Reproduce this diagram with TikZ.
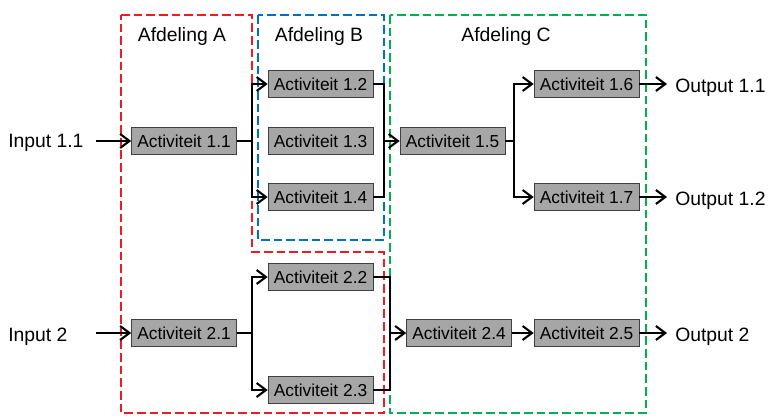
\documentclass[tikz,border=0pt]{standalone}
\usepackage{fontspec}
\setmainfont{Liberation Sans}
\usetikzlibrary{arrows.meta}
\definecolor{boxgray}{RGB}{166,166,166}
\definecolor{afdA}{RGB}{237,28,36}
\definecolor{afdB}{RGB}{0,112,192}
\definecolor{afdC}{RGB}{0,176,80}

\begin{document}
\begin{tikzpicture}[x=0.75pt,y=-0.75pt,
  act/.style={draw=black!75, fill=boxgray, minimum width=78.75pt, minimum height=20.25pt, inner sep=0pt, font=\fontsize{13}{15}\selectfont},
  flow/.style={line width=1.6pt, -{Straight Barb[length=7pt,width=10.5pt]}},
  joint/.style={line width=1.6pt},
  afdeling/.style={dash pattern=on 6.5pt off 3pt, line width=1.1pt},
  lbl/.style={font=\fontsize{14.5}{17}\selectfont, inner sep=0pt}]

\useasboundingbox (0,0) rectangle (773,420);

% afdelingen
\draw[afdeling, draw=afdA] (121,15) -- (252,15) -- (252,252) -- (384,252) -- (384,413) -- (121,413) -- cycle;
\draw[afdeling, draw=afdB] (258,15) rectangle (384,240);
\draw[afdeling, draw=afdC] (390,15) rectangle (646,413);

\node[lbl, anchor=base] (lA) at (182,41.5) {Afdeling A};
\node[lbl, anchor=base] (lB) at (319,41.5) {Afdeling B};
\node[lbl, anchor=base] (lC) at (506,41.5) {Afdeling C};

% activiteiten, rij 1
\node[act] (a11) at (184,141) {Activiteit 1.1};
\node[act] (a12) at (320.5,84) {Activiteit 1.2};
\node[act] (a13) at (320.5,141) {Activiteit 1.3};
\node[act] (a14) at (320.5,197) {Activiteit 1.4};
\node[act] (a15) at (452.5,141) {Activiteit 1.5};
\node[act] (a16) at (586.5,84) {Activiteit 1.6};
\node[act] (a17) at (586.5,197) {Activiteit 1.7};

% activiteiten, rij 2
\node[act] (a21) at (184,333) {Activiteit 2.1};
\node[act] (a22) at (320.5,277) {Activiteit 2.2};
\node[act] (a23) at (320.5,390) {Activiteit 2.3};
\node[act] (a24) at (459,333) {Activiteit 2.4};
\node[act] (a25) at (586.5,333) {Activiteit 2.5};

% in- en output
\node[lbl, anchor=base west] (in11) at (8,148) {Input 1.1};
\node[lbl, anchor=base west] (in2) at (8,341) {Input 2};
\coordinate (s11) at (96,141);
\coordinate (s2) at (96,333);

\node[lbl, anchor=base west] (o11) at (675,93) {Output 1.1};
\node[lbl, anchor=base west] (o12) at (675,205) {Output 1.2};
\node[lbl, anchor=base west] (o2) at (675,341.5) {Output 2};

% knooppunten
\coordinate (j1) at (252,141);
\coordinate (j2) at (384,141);
\coordinate (j3) at (514,141);
\coordinate (j4) at (252,333);
\coordinate (j5) at (390,333);

% verbindingen, rij 1
\draw[flow] (s11) -- (a11);
\draw[joint] (a11) -- (j1);
\draw[flow] (j1) |- (a12);
\draw[flow] (j1) |- (a14);
\draw[joint] (a12) -| (j2);
\draw[joint] (a14) -| (j2);
\draw[flow] (j2) -- (a15);
\draw[joint] (a15) -- (j3);
\draw[flow] (j3) |- (a16);
\draw[flow] (j3) |- (a17);
\draw[flow] (a16) -- ([xshift=-6pt]a16 -| o11.west);
\draw[flow] (a17) -- ([xshift=-6pt]a17 -| o12.west);

% verbindingen, rij 2
\draw[flow] (s2) -- (a21);
\draw[joint] (a21) -- (j4);
\draw[flow] (j4) |- (a22);
\draw[flow] (j4) |- (a23);
\draw[joint] (a22) -| (j5);
\draw[joint] (a23) -| (j5);
\draw[flow] (j5) -- (a24);
\draw[flow] (a24) -- (a25);
\draw[flow] (a25) -- ([xshift=-6pt]a25 -| o2.west);

\end{tikzpicture}
\end{document}
